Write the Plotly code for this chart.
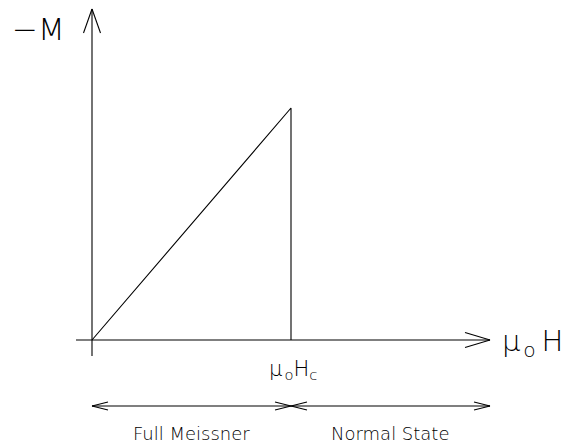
import plotly.graph_objects as go

# Magnetisation curve of a type-I superconductor (normalised units)
field = [0.0, 1.0, 1.0]          # mu0*H, in units of mu0*Hc
neg_mag = [0.0, 1.0, 0.0]        # -M, in units of -M at Hc
region_labels = ["Full Meissner", "Normal State"]
hc = field[1]

# Axis windows chosen so that the origin sits near the lower-left
x_range = [-0.4623, 2.3668]
y_range = [-0.4526, 1.4655]
px_x = 563 / (x_range[1] - x_range[0])   # pixels per field unit
px_y = 445 / (y_range[1] - y_range[0])   # pixels per magnetisation unit

FONT = "DejaVu Sans"
INK = "black"


def dx(p):
    return p / px_x


def dy(p):
    return p / px_y


shapes = []


def seg(x0, y0, x1, y1, w=1.1):
    shapes.append(dict(type="line", x0=x0, y0=y0, x1=x1, y1=y1,
                       xref="x", yref="y", line=dict(color=INK, width=w)))


def head(xt, yt, direction, back, half):
    # open V arrowhead; direction is +1/-1 along x, or "up"
    if direction == "up":
        seg(xt, yt, xt - dx(half), yt - dy(back))
        seg(xt, yt, xt + dx(half), yt - dy(back))
    else:
        seg(xt, yt, xt - direction * dx(back), yt + dy(half))
        seg(xt, yt, xt - direction * dx(back), yt - dy(half))


# coordinate axes
x_end = 2 * hc
seg(-dx(16), 0, x_end, 0)
head(x_end, 0, 1, 25, 7.5)
y_end = neg_mag[1] + dy(99)
seg(0, -dy(16), 0, y_end)
head(0, y_end, "up", 24, 8.5)

# region arrows beneath the field axis
y_reg = -dy(66)
seg(0, y_reg, hc, y_reg)
seg(hc, y_reg, 2 * hc, y_reg)
head(0, y_reg, -1, 16, 4)
head(hc, y_reg, 1, 16, 4)
head(hc, y_reg, -1, 16, 4)
head(2 * hc, y_reg, 1, 16, 4)

fig = go.Figure()
fig.add_trace(go.Scatter(x=field, y=neg_mag, mode="lines",
                         line=dict(color=INK, width=1.1),
                         hoverinfo="skip", showlegend=False))

annotations = [
    dict(x=-dx(54), y=neg_mag[1] + dy(79), text="−M", showarrow=False,
         font=dict(family=FONT, size=31, color=INK, weight=300)),
    dict(x=2 * hc + dx(10), y=-dy(3),
         text="μ\u200a<sub>o</sub>\u2009H", showarrow=False,
         xanchor="left", font=dict(family=FONT, size=29, color=INK, weight=300)),
    dict(x=hc + dx(2), y=-dy(30),
         text="μ\u200a<sub>o</sub>H<sub>c</sub>", showarrow=False,
         font=dict(family=FONT, size=21, color=INK, weight=300)),
    dict(x=hc / 2, y=y_reg - dy(27), text=region_labels[0], showarrow=False,
         font=dict(family=FONT, size=18, color=INK, weight=300)),
    dict(x=1.5 * hc, y=y_reg - dy(27), text=region_labels[1], showarrow=False,
         font=dict(family=FONT, size=18, color=INK, weight=300)),
]

fig.update_layout(
    width=563, height=445,
    margin=dict(l=0, r=0, t=0, b=0),
    paper_bgcolor="white", plot_bgcolor="white",
    xaxis=dict(range=x_range, visible=False, fixedrange=True),
    yaxis=dict(range=y_range, visible=False, fixedrange=True),
    shapes=shapes, annotations=annotations,
    showlegend=False,
)

fig.write_html("out.html")
